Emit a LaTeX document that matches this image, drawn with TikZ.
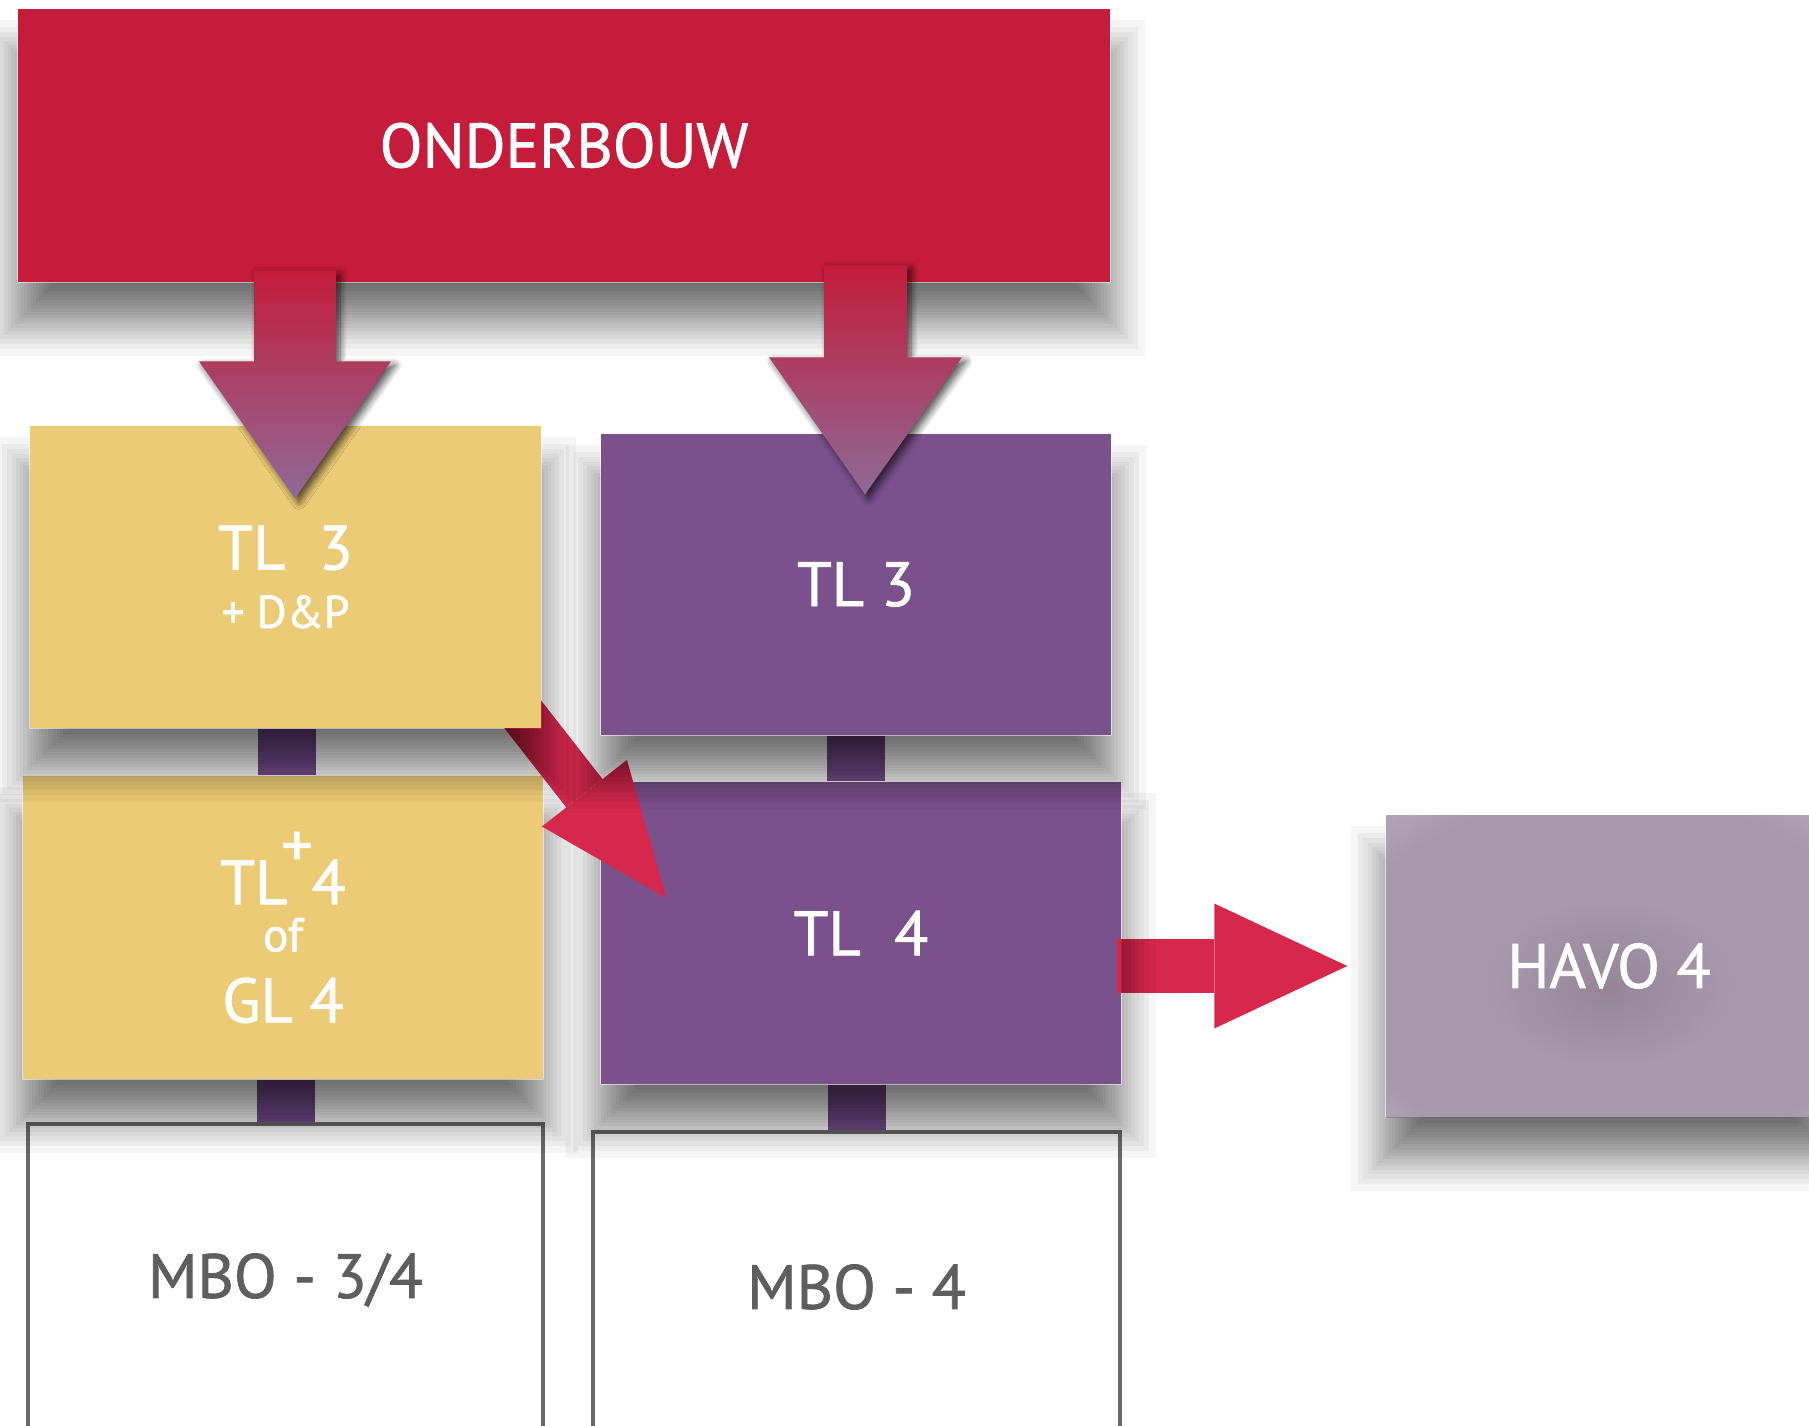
\documentclass[tikz,border=0pt]{standalone}
\usepackage{fontspec}
\setmainfont{PT Sans}[FakeBold=1.2]
\usepackage{tikz}
\usetikzlibrary{calc,positioning,arrows.meta,shadows.blur}
\definecolor{OBRed}{HTML}{C41C3A}
\definecolor{TLYellow}{HTML}{ECCB76}
\definecolor{TLPurple}{HTML}{7B518C}
\definecolor{StubPurple}{HTML}{7B5291}
\definecolor{ArrowRed}{HTML}{D6284C}
\definecolor{ArrowMauve}{HTML}{8E6A98}
\definecolor{MBOGray}{HTML}{6A6A6A}
\definecolor{MBOText}{HTML}{5E5E5E}
\definecolor{HavoLight}{HTML}{CABCD4}
\definecolor{HavoMid}{HTML}{A898AE}
\definecolor{HavoDark}{HTML}{958597}
\pgfdeclareradialshading{havoshading}{\pgfpoint{0bp}{-4bp}}{color(0bp)=(HavoDark); color(14bp)=(HavoMid); color(30bp)=(HavoMid); color(50bp)=(HavoLight)}
\tikzstyle{box} = [rectangle, inner sep=0pt, align=center, text=white, font=\fontsize{17.8pt}{22pt}\selectfont]
\tikzstyle{mbobox} = [rectangle, inner sep=0pt, draw=MBOGray, line width=0.45mm, fill=white, text=MBOText, font=\fontsize{17.8pt}{22pt}\selectfont]
\tikzstyle{shadowring} = [fill=black, opacity=0.038]
\tikzstyle{stub} = [draw=StubPurple, line width=5.8mm]
\tikzstyle{downarrow} = [top color=OBRed, bottom color=ArrowMauve, blur shadow={shadow xshift=0.4mm, shadow yshift=-0.4mm, shadow blur radius=0.7mm, shadow opacity=70, shadow blur steps=8}]
\tikzstyle{fatarrow} = [draw=ArrowRed]
% ring offsets of the soft shadow
\newcommand{\ringlist}{-48.4,-41.7,-36.3,-31.6,-27.4,-23.6,-20.1,-16.7,-13.5,-10.4,-7.4,-4.4,-1.5,1.5,4.4,7.4,10.4,13.5,16.7,20.1,23.6,27.4,31.6,36.3,41.7,48.4}
\begin{document}
\begin{tikzpicture}[x=0.1mm, y=-0.1mm]
\useasboundingbox (0,0) rectangle (1809,1425);
% bottom rows first, so that the shadows fall on them
\node[mbobox, minimum width=51.5mm, minimum height=31.2mm] (mbo34) at (285.5,1280) {MBO - 3/4};
\node[mbobox, minimum width=52.7mm, minimum height=31mm] (mbo4) at (856.5,1287) {MBO - 4};
\node[box, shade, shading=havoshading, minimum width=44.6mm, minimum height=30.2mm] (havo) at (1609,966) {HAVO 4};
\node[box, fill=TLYellow, minimum width=52mm, minimum height=30.3mm] (tl4y) at (283,927.5) {TL\hspace{-0.1em}\raisebox{0.6em}{+}\hspace{-0.02em}4\\[-8.6pt]{\fontsize{13.5pt}{15pt}\selectfont of}\\[-1.8pt]GL 4};
\node[box, fill=TLPurple, minimum width=52mm, minimum height=30.2mm] (tl4p) at (861,933) {TL\ \ 4};

\draw[stub] ($(tl4y.south)+(3,0)$) -- ($(tl4y.south |- mbo34.north)+(3,0)$);
\draw[stub] (mbo4.north |- tl4p.south) -- (mbo4.north);
\draw[fatarrow, line width=5.4mm, -{Triangle[length=13.3mm, width=12.5mm, line width=0pt]}] ($(tl4p.east)+(-5,33)$) -- ($(havo.west)+(-38,0)$);

% soft shadows, cut away from the box itself
\foreach \b in {havo,tl4y,tl4p} {
  \begin{scope}
    \clip (-300,-300) -- (2200,-300) -- (2200,1800) -- (-300,1800) -- cycle
      (\b.north west) -- (\b.south west) -- (\b.south east) -- (\b.north east) -- cycle;
    \foreach \e in \ringlist
      \fill[shadowring] ($(\b.north west)+(14-\e,60-\e)$) rectangle ($(\b.south east)+(\e-14,25+\e)$);
  \end{scope}
}

\coordinate (diagtail) at (492,675);
\draw[fatarrow, line width=4.6mm, -{Triangle[length=13.3mm, width=10.8mm, line width=0pt]}] (diagtail) -- ($(tl4p.west)+(66,-35)$);

\node[box, fill=TLYellow, minimum width=51.1mm, minimum height=30.2mm] (tl3y) at (285.5,577) {TL\ \ 3\\[-5.4pt]{\fontsize{13pt}{15pt}\selectfont + D\&P}};
\node[box, fill=TLPurple, minimum width=51mm, minimum height=30.1mm] (tl3p) at (856,584.5) {TL 3};
\node[box, fill=OBRed, minimum width=109.2mm, minimum height=27.3mm] (ob) at (564,145.5) {ONDERBOUW};

\draw[stub] ($(tl3y.south)+(1,0)$) -- ($(tl3y.south |- tl4y.north)+(1,0)$);
\draw[stub] (tl3p.south) -- (tl3p.south |- tl4p.north);

\foreach \b in {tl3y,tl3p,ob} {
  \begin{scope}
    \clip (-300,-300) -- (2200,-300) -- (2200,1800) -- (-300,1800) -- cycle
      (\b.north west) -- (\b.south west) -- (\b.south east) -- (\b.north east) -- cycle;
    \foreach \e in \ringlist
      \fill[shadowring] ($(\b.north west)+(14-\e,60-\e)$) rectangle ($(\b.south east)+(\e-14,25+\e)$);
  \end{scope}
}

\coordinate (tip1) at ($(tl3y.north)+(9.5,73)$);
\coordinate (tip2) at ($(tl3p.north)+(9,61)$);
\shade[downarrow] (tip1) -- ++(-96,-137) -- ++(55,0) -- ++(0,-91) -- ++(82,0) -- ++(0,91) -- ++(55,0) -- cycle;
\shade[downarrow] (tip2) -- ++(-96,-137) -- ++(55,0) -- ++(0,-92) -- ++(83,0) -- ++(0,92) -- ++(55,0) -- cycle;
\end{tikzpicture}
\end{document}
